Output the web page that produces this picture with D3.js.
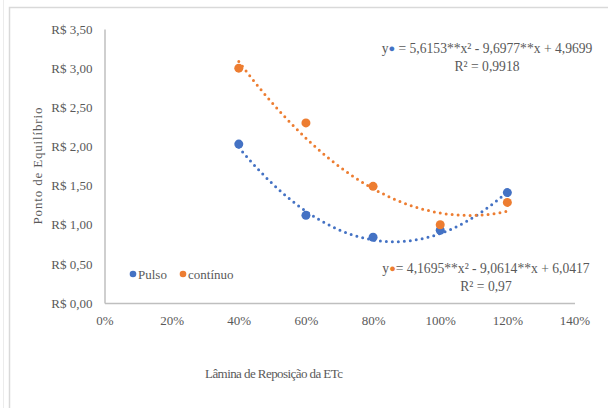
<!DOCTYPE html>
<html>
<head>
<meta charset="utf-8">
<script src="https://cdn.jsdelivr.net/npm/d3@7"></script>
<style>
  html, body { margin: 0; padding: 0; background: #fff; }
  svg { display: block; }
  text { font-family: "Liberation Serif", "Times New Roman", serif; fill: #595959; }
</style>
</head>
<body>
<svg id="chart" width="608" height="408"></svg>
<script>
// Lâmina de reposição (fração da ETc)
const laminas = [0.4, 0.6, 0.8, 1.0, 1.2];
// Ponto de equilíbrio (R$) por manejo
const pulso = [2.03, 1.12, 0.84, 0.93, 1.41];
const continuo = [3.00, 2.30, 1.49, 1.00, 1.285];
// Coeficientes dos ajustes polinomiais de 2º grau [a, b, c]: y = a·x² + b·x + c
const coefPulso = [5.6153, -9.6977, 4.9699];
const coefContinuo = [4.1695, -9.0614, 6.0417];
const xTicks = [0, 0.2, 0.4, 0.6, 0.8, 1.0, 1.2, 1.4];
const yTicks = [0, 0.5, 1.0, 1.5, 2.0, 2.5, 3.0, 3.5];

const BLUE = "#4472C4", ORANGE = "#ED7D31", AXIS = "#bfbfbf", TXT = "#595959";

const svg = d3.select("#chart");

// moldura da área do gráfico
svg.append("line").attr("x1", 3.5).attr("x2", 3.5).attr("y1", 0).attr("y2", 408)
  .attr("stroke", "#ececec").attr("stroke-width", 1);
svg.append("rect").attr("x", 9.5).attr("y", 7.5).attr("width", 620).attr("height", 420)
  .attr("fill", "#fff").attr("stroke", "#d9d9d9").attr("stroke-width", 1.5);

const x = d3.scaleLinear().domain([0, 1.4]).range([104.5, 574.5]);
const y = d3.scaleLinear().domain([0, 3.5]).range([303, 29]);

const ptBR = d3.formatLocale({ decimal: ",", thousands: ".", grouping: [3], currency: ["R$ ", ""] });
const fmtMoney = v => "R$ " + ptBR.format(".2f")(v);
const fmtPct = v => d3.format(".0%")(v);

// eixo Y
const gy = svg.append("g").attr("transform", `translate(${x(0)},0)`)
  .call(d3.axisLeft(y).tickValues(yTicks).tickFormat(fmtMoney).tickSize(0).tickSizeOuter(0).tickPadding(12));
gy.select(".domain").attr("stroke", AXIS).attr("stroke-width", 1.5);
gy.selectAll("text").attr("font-size", 13).attr("fill", TXT)
  .style("font-family", '"Liberation Serif", serif');

// eixo X
const gx = svg.append("g").attr("transform", `translate(0,${y(0)})`)
  .call(d3.axisBottom(x).tickValues(xTicks).tickFormat(fmtPct).tickSize(0).tickSizeOuter(0).tickPadding(13));
gx.select(".domain").attr("stroke", AXIS).attr("stroke-width", 1.5);
gx.selectAll("text").attr("font-size", 13).attr("fill", TXT)
  .style("font-family", '"Liberation Serif", serif');

// títulos dos eixos
svg.append("text").attr("x", 274).attr("y", 377.5).attr("text-anchor", "middle")
  .attr("font-size", 13).attr("textLength", 138).attr("lengthAdjust", "spacing")
  .text("Lâmina de Reposição da ETc");
svg.append("text").attr("transform", "translate(42,166) rotate(-90)").attr("text-anchor", "middle")
  .attr("font-size", 13).attr("textLength", 117).attr("lengthAdjust", "spacing")
  .text("Ponto de Equilíbrio");

// linhas de tendência polinomiais (pontilhadas)
const poly = c => v => c[0] * v * v + c[1] * v + c[2];
const trendX = d3.range(0, 161).map(i => laminas[0] + (laminas[laminas.length - 1] - laminas[0]) * i / 160);
const line = d3.line().x(d => x(d[0])).y(d => y(d[1])).curve(d3.curveLinear);

function trend(coef, color) {
  const f = poly(coef);
  svg.append("path").datum(trendX.map(v => [v, f(v)]))
    .attr("d", line).attr("fill", "none").attr("stroke", color)
    .attr("stroke-width", 3).attr("stroke-linecap", "round")
    .attr("stroke-dasharray", "0 6");
}
trend(coefPulso, BLUE);
trend(coefContinuo, ORANGE);

// pontos observados
function pts(vals, color) {
  svg.append("g").selectAll("circle").data(vals).join("circle")
    .attr("cx", (d, i) => x(laminas[i])).attr("cy", d => y(d))
    .attr("r", 4.5).attr("fill", color);
}
pts(pulso, BLUE);
pts(continuo, ORANGE);

// legenda
const legend = [["Pulso", BLUE, 133], ["contínuo", ORANGE, 183]];
legend.forEach(([lab, col, lx]) => {
  svg.append("circle").attr("cx", lx).attr("cy", 274).attr("r", 3.3).attr("fill", col);
  svg.append("text").attr("x", lx + 5).attr("y", 278.5).attr("font-size", 13).text(lab);
});

// equações dos ajustes
function equation(cx, by, color, body, r2) {
  const t = svg.append("text").attr("x", cx).attr("y", by).attr("text-anchor", "middle").attr("font-size", 13.6);
  t.append("tspan").text("y");
  t.append("tspan").attr("fill", color).attr("font-size", 11).attr("dy", -1).text("●");
  t.append("tspan").attr("dy", 1).text(body);
  svg.append("text").attr("x", cx).attr("y", by + 18).attr("text-anchor", "middle")
    .attr("font-size", 13.6).text(r2);
}
equation(487, 53, BLUE, " = 5,6153**x² - 9,6977**x + 4,9699", "R² = 0,9918");
equation(486, 273, ORANGE, "= 4,1695**x²  - 9,0614**x + 6,0417", "R² = 0,97");
</script>
</body>
</html>
